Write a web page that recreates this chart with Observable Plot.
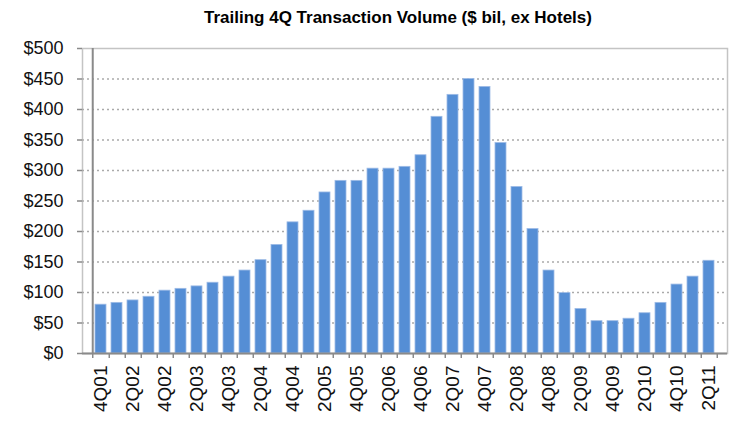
<!DOCTYPE html>
<html><head><meta charset="utf-8">
<script src="https://cdn.jsdelivr.net/npm/d3@7"></script>
<script src="https://cdn.jsdelivr.net/npm/@observablehq/plot@0.6"></script>
<style>
body{margin:0;background:#fff;}
#title{height:36px;box-sizing:border-box;padding-top:8px;padding-left:62px;text-align:center;font:bold 17px "Liberation Sans Narrow","Liberation Sans",Arial,sans-serif;color:#000;white-space:nowrap;}
</style></head><body>
<div id="title">Trailing 4Q Transaction Volume ($ bil, ex Hotels)</div>
<div id="chart"></div>
<script>
const quarters = ["4Q01","1Q02","2Q02","3Q02","4Q02","1Q03","2Q03","3Q03","4Q03","1Q04","2Q04","3Q04","4Q04",
  "1Q05","2Q05","3Q05","4Q05","1Q06","2Q06","3Q06","4Q06","1Q07","2Q07","3Q07","4Q07","1Q08","2Q08","3Q08","4Q08",
  "1Q09","2Q09","3Q09","4Q09","1Q10","2Q10","3Q10","4Q10","1Q11","2Q11"];
const volumes = [80,83,87,93,103,106,110,116,126,136,153,178,215,
  234,264,283,283,303,303,306,325,388,424,450,437,345,273,204,136,
  99,73,53,53,57,66,83,113,126,152];
const yTicks = [0,50,100,150,200,250,300,350,400,450,500];
const xLabels = quarters.filter((q, i) => i % 2 === 0);
const data = quarters.map((q, i) => ({quarter: q, volume: volumes[i]}));

const W = 734, H = 385, mL = 82, mR = 7;
const step = (W - mL - mR) / quarters.length;
const font = '"Liberation Sans", Arial, sans-serif';

const chart = Plot.plot({
  width: W, height: H, marginLeft: mL, marginRight: mR, marginTop: 12, marginBottom: 68,
  style: {fontFamily: font, fontSize: "18px", color: "#111", background: "#fff"},
  x: {domain: quarters, paddingInner: 0.3, paddingOuter: 0.15, axis: null, label: null},
  y: {domain: [0, 500], axis: null, label: null},
  marks: [
    Plot.frame({stroke: "#c4c4c4", strokeWidth: 1.5}),
    Plot.gridY(yTicks.slice(1, -1), {stroke: "#aaaaaa", strokeOpacity: 1, strokeDasharray: "2,3", strokeWidth: 1.5}),
    Plot.barY(data, {x: "quarter", y: "volume", fill: "#558ED5", stroke: "#9dbbe6", strokeWidth: 0.8}),
    Plot.ruleY([0], {stroke: "#8a8a8a", strokeWidth: 2}),
    Plot.ruleX([quarters[0]], {dx: -step / 2, stroke: "#8a8a8a", strokeWidth: 2}),
    Plot.axisY({ticks: yTicks, tickFormat: d => "$" + d, tickSize: 5, tickPadding: 14, stroke: "#8a8a8a", strokeWidth: 1.5, fontSize: 18, label: null}),
    Plot.axisX({ticks: quarters, tickFormat: () => "", tickSize: 5, dx: step / 2, stroke: "#8a8a8a", strokeWidth: 1.5, label: null}),
    Plot.axisX({ticks: [quarters[0]], tickFormat: () => "", tickSize: 5, dx: -step / 2, stroke: "#8a8a8a", strokeWidth: 1.5, label: null}),
    Plot.axisX({ticks: xLabels, tickSize: 0, tickPadding: 12, tickRotate: -90, fontSize: 19, label: null})
  ]
});
document.getElementById("chart").appendChild(chart);
</script>
</body></html>
